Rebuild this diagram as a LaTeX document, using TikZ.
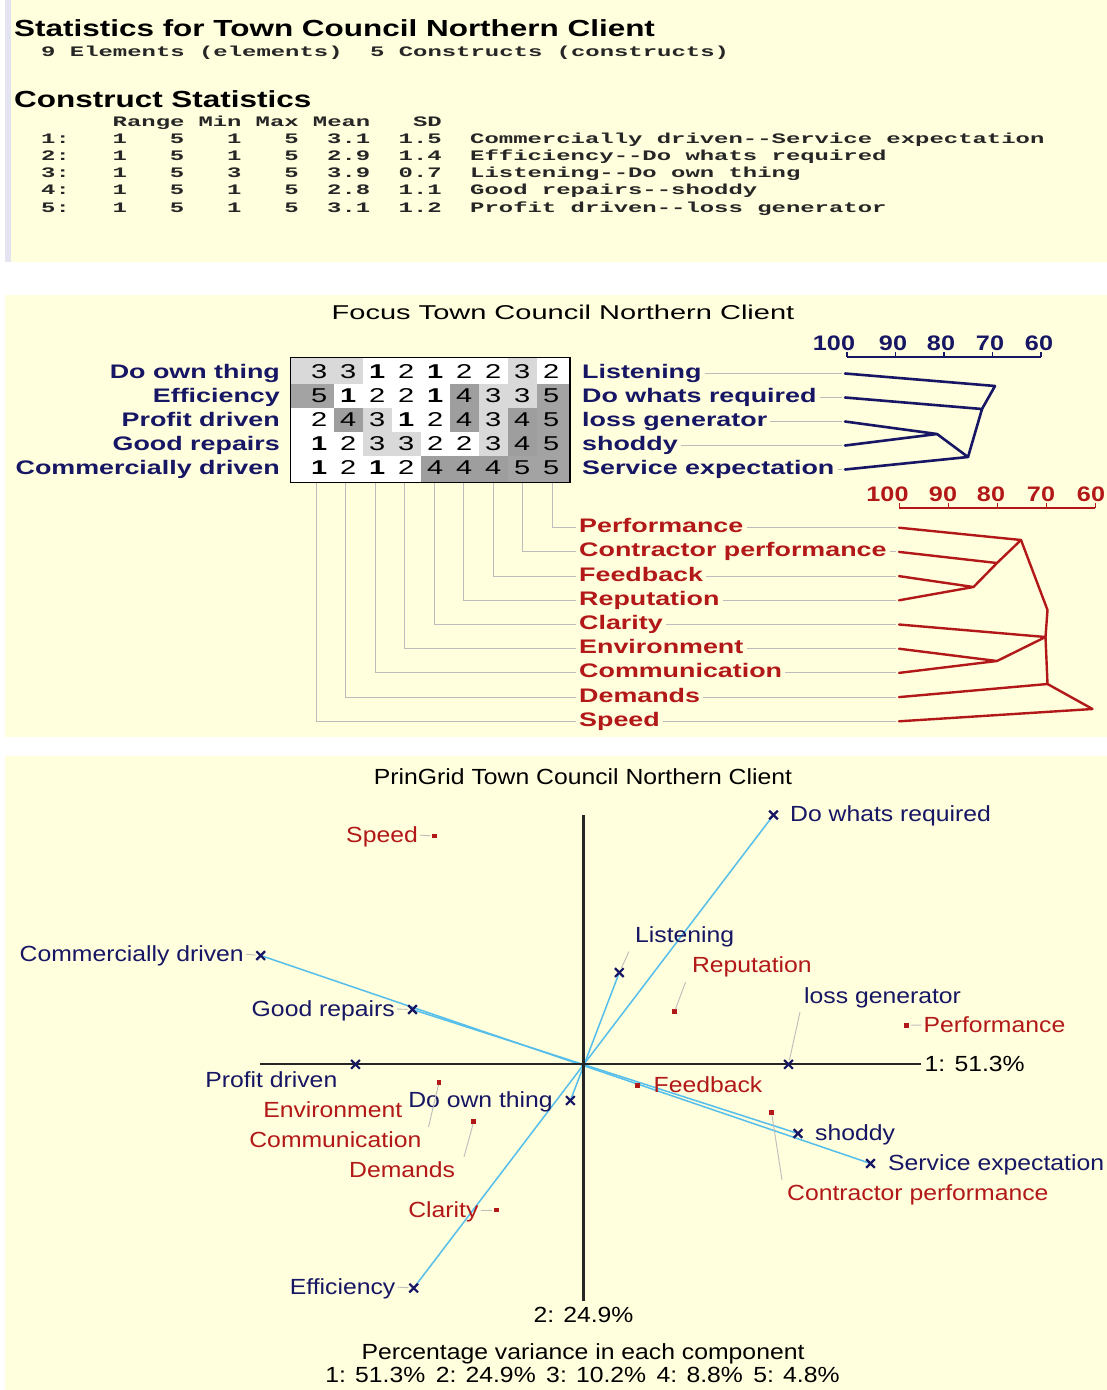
\documentclass[tikz,border=0pt]{standalone}
\usepackage{fontspec}
\usetikzlibrary{calc,shapes.misc}

% stretched faces of the report fonts
\newfontfamily\fHead[FakeStretch=1.35]{Liberation Sans}
\newfontfamily\fMono[FakeStretch=1.65]{Liberation Mono}
\newfontfamily\fMid[FakeStretch=1.45]{Liberation Sans}
\newfontfamily\fLab[FakeStretch=1.37]{Liberation Sans}
\newfontfamily\fScale[FakeStretch=1.2]{Liberation Sans}
\newfontfamily\fBot[FakeStretch=1.13]{Liberation Sans}

\definecolor{panel}{RGB}{255,254,221}
\definecolor{strip}{RGB}{228,228,240}
\definecolor{navy}{RGB}{22,22,100}
\definecolor{dred}{RGB}{178,24,24}
\definecolor{sky}{RGB}{85,190,235}
\definecolor{leadgray}{RGB}{188,188,188}
\colorlet{sh3}{black!15}
\colorlet{sh4}{black!38}
\colorlet{sh5}{black!36}

\pgfdeclarelayer{bg}
\pgfdeclarelayer{wires}
\pgfsetlayers{bg,wires,main}

% shade one cell of the focused grid: colour, column, row
\newcommand\shadecell[3]{%
  \pgfmathsetmacro\xl{#2==1 ? 290.5 : 334+29*(#2-2)}%
  \pgfmathsetmacro\xr{#2==9 ? 569.5 : 334+29*(#2-1)}%
  \pgfmathsetmacro\yt{#3==1 ? 357.5 : 359.5+24*(#3-1)}%
  \pgfmathsetmacro\yb{#3==5 ? 482.5 : 383.5+24*(#3-1)}%
  \fill[#1] (\xl,\yt) rectangle (\xr,\yb);}

\begin{document}
\begin{tikzpicture}[x=1pt,y=-1pt,
  hd/.style={font=\fHead\bfseries\fontsize{23.3}{28}\selectfont, text=black, inner sep=0pt, text height=16.5pt, text depth=0pt, anchor=west},
  mono/.style={font=\fMono\bfseries\fontsize{14.5}{17}\selectfont, text=black!85, inner sep=0pt, text height=9.5pt, text depth=0pt, anchor=west},
  midtxt/.style={font=\fMid\fontsize{20}{24}\selectfont, inner sep=0pt, text height=14pt, text depth=0pt},
  labtxt/.style={font=\fLab\bfseries\fontsize{19.6}{24}\selectfont, inner sep=0pt, text height=14pt, text depth=0pt},
  conlab/.style={labtxt, text=navy},
  elelab/.style={labtxt, text=dred},
  digit/.style={font=\fMid\fontsize{20}{22}\selectfont, inner sep=0pt, text height=14pt, text depth=0pt, text=black},
  scl/.style={font=\fScale\bfseries\fontsize{21}{24}\selectfont, inner sep=0pt, text height=14.5pt, text depth=0pt},
  bot/.style={font=\fBot\fontsize{21.9}{26}\selectfont, inner sep=0pt, text height=15pt, text depth=0pt},
  bcon/.style={bot, text=navy},
  bele/.style={bot, text=dred},
  lead/.style={draw=leadgray, line width=0.9pt},
  ndend/.style={draw=navy, line width=2.6pt, line cap=round, line join=round},
  rdend/.style={draw=dred, line width=2.4pt, line cap=round, line join=round},
  cmark/.style={cross out, draw=navy, line width=2.2pt, minimum size=6.5pt, inner sep=0pt},
  emark/.style={rectangle, fill=dred, minimum size=4.5pt, inner sep=0pt},
  vec/.style={draw=sky, line width=1.5pt},
  axisline/.style={draw=black!85, line width=2.2pt},
]
\useasboundingbox (0,0) rectangle (1107,1390);

% ---------- panels ----------
\begin{pgfonlayer}{bg}
  \fill[white] (0,0) rectangle (1107,1390);
  \fill[panel] (5,0) rectangle (1107,262);
  \fill[strip] (5,0) rectangle (11,262);
  \fill[panel] (5,295) rectangle (1107,737);
  \fill[panel] (5,756) rectangle (1107,1390);
\end{pgfonlayer}

% ---------- statistics ----------
\node[hd] (sTitle) at (14,28) {Statistics for Town Council Northern Client};
\node[mono] (sElem) at (41,51.5) {9 Elements (elements)};
\node[mono] (sCons) at ({41+14.3*23},51.5) {5 Constructs (constructs)};
\node[hd] (sHead) at (14,99) {Construct Statistics};
\foreach \t/\i in {Range/5,Min/11,Max/15,Mean/19,SD/26}
  {\node[mono] (h\t) at ({41+14.3*\i},122) {\t};}
\foreach \vr/\va/\vb/\vc/\vd/\ve/\vf/\vtxt in {
  1/1/5/1/5/3.1/1.5/{Commercially driven-\kern0pt-Service expectation},
  2/1/5/1/5/2.9/1.4/{Efficiency-\kern0pt-Do whats required},
  3/1/5/3/5/3.9/0.7/{Listening-\kern0pt-Do own thing},
  4/1/5/1/5/2.8/1.1/{Good repairs-\kern0pt-shoddy},
  5/1/5/1/5/3.1/1.2/{Profit driven-\kern0pt-loss generator}} {
  \pgfmathsetmacro\yy{138.3+17.25*(\vr-1)}
  \node[mono] (rn\vr) at (41,\yy) {\vr:};
  \node[mono] (ra\vr) at (112.5,\yy) {\va};
  \node[mono] (rb\vr) at (169.7,\yy) {\vb};
  \node[mono] (rc\vr) at (226.9,\yy) {\vc};
  \node[mono] (rd\vr) at (284.1,\yy) {\vd};
  \node[mono] (re\vr) at (327,\yy) {\ve};
  \node[mono] (rf\vr) at (398.5,\yy) {\vf};
  \node[mono] (rt\vr) at (470,\yy) {\vtxt};
}

% ---------- focus grid ----------
\node[midtxt, text=black] (fTitle) at (563,312.5) {Focus Town Council Northern Client};

\foreach \lab [count=\gr] in {Do own thing, Efficiency, Profit driven, Good repairs, Commercially driven}
  {\node[conlab, anchor=east] (cl\gr) at (280,{371.5+24*(\gr-1)}) {\lab};}
\foreach \lab [count=\gr] in {Listening, Do whats required, loss generator, shoddy, Service expectation}
  {\node[conlab, anchor=west] (cr\gr) at (582,{371.5+24*(\gr-1)}) {\lab};}

\fill[white] (290.5,357.5) rectangle (570,482.5);
\foreach \gc/\gr in {1/1,2/1,8/1,7/2,8/2,3/3,7/3,3/4,4/4,7/4} {\shadecell{sh3}{\gc}{\gr}}
\foreach \gc/\gr in {6/2,2/3,6/3,8/3,8/4,5/5,6/5,7/5} {\shadecell{sh4}{\gc}{\gr}}
\foreach \gc/\gr in {1/2,9/2,9/3,9/4,8/5,9/5} {\shadecell{sh5}{\gc}{\gr}}

\foreach \row [count=\gr] in {{3,3,1,2,1,2,2,3,2},{5,1,2,2,1,4,3,3,5},{2,4,3,1,2,4,3,4,5},{1,2,3,3,2,2,3,4,5},{1,2,1,2,4,4,4,5,5}}
  {\foreach \v [count=\gc] in \row
    {\node[digit] (g\gr-\gc) at ({319.3+29*(\gc-1)},{371.5+24*(\gr-1)}) {\ifnum\v=1 \bfseries\fi\v};}}

\node[draw=black, line width=1.4pt, minimum width=279.5pt, minimum height=125pt, inner sep=0pt] (grid) at (430.25,420) {};

% construct leaders and tree
\foreach \gr in {1,...,5} {
  \coordinate (cf\gr) at (845,{373.5+24*(\gr-1)});
  \draw[lead] ($(cr\gr.east)+(3,2)$) -- ($(cf\gr)+(-3,0)$);
}
\coordinate (nB) at (937,434);
\coordinate (nC) at (968,457);
\coordinate (nD) at (982,409);
\coordinate (nE) at (995,386);
\draw[ndend] (cf3) -- (nB) -- (cf4);
\draw[ndend] (nB) -- (nC) -- (cf5);
\draw[ndend] (nC) -- (nD) -- (cf2);
\draw[ndend] (nD) -- (nE) -- (cf1);

\foreach \i/\x/\lx/\t in {0/847/834/100,1/895.5/893/90,2/944/941/80,3/992.5/990/70,4/1041/1039/60} {
  \coordinate (nt\i) at (\x,357);
  \draw[navy, line width=1.5pt] (nt\i) -- ++(0,-5.5);
  \node[scl, text=navy] (ns\i) at (\lx,343) {\t};
}
\draw[navy, line width=1.5pt] (nt0) -- (nt4);

% element leaders and tree
\foreach \lab [count=\k from 0] in {Performance, Contractor performance, Feedback, Reputation, Clarity, Environment, Communication, Demands, Speed} {
  \pgfmathsetmacro\yc{525.7+24.2*\k}
  \pgfmathsetmacro\xd{316+29.5*(8-\k)}
  \node[elelab, anchor=west] (el\k) at (579,\yc) {\lab};
  \coordinate (ed\k) at (\xd,{\yc+2});
  \coordinate (ef\k) at (899,{\yc+2});
  \draw[lead] (grid.south -| ed\k) |- ($(el\k.west)+(-3,2)$);
  \draw[lead] ($(el\k.east)+(3,2)$) -- ($(ef\k)+(-3,0)$);
}
\coordinate (rFR) at (973.5,587);
\coordinate (rCFR) at (997,563);
\coordinate (rP) at (1021,540);
\coordinate (rX1) at (1047.5,610);
\coordinate (rX2) at (1045.5,637);
\coordinate (rEC) at (997,661);
\coordinate (rX3) at (1047.5,684);
\coordinate (rRoot) at (1092.5,709);
\draw[rdend] (ef2) -- (rFR) -- (ef3);
\draw[rdend] (rFR) -- (rCFR) -- (ef1);
\draw[rdend] (rCFR) -- (rP) -- (ef0);
\draw[rdend] (rP) -- (rX1) -- (rX2) -- (rX3);
\draw[rdend] (ef4) -- (rX2);
\draw[rdend] (ef5) -- (rEC) -- (ef6);
\draw[rdend] (rEC) -- (rX2);
\draw[rdend] (ef7) -- (rX3) -- (rRoot) -- (ef8);

\foreach \i/\x/\lx/\t in {0/899.4/887.5/100,1/948.4/943/90,2/997.4/991/80,3/1046.4/1041/70,4/1095.3/1091/60} {
  \coordinate (rt\i) at (\x,508);
  \draw[dred, line width=1.5pt] (rt\i) -- ++(0,-5.5);
  \node[scl, text=dred] (rs\i) at (\lx,494) {\t};
}
\draw[dred, line width=1.5pt] (rt0) -- (rt4);

% ---------- principal components plot ----------
\node[bot, text=black] (pTitle) at (583,777) {PrinGrid Town Council Northern Client};

\coordinate (O) at (583.5,1064.3);
\coordinate (axL) at (260,1064.3);
\coordinate (axR) at (921,1064.3);
\coordinate (axT) at (583.5,815);
\coordinate (axB) at (583.5,1300.5);
\node[bot, text=black, anchor=west] (ax1) at (924.5,1064.3) {1: 51.3\%};
\node[bot, text=black] (ax2) at (583.5,1315) {2: 24.9\%};

% construct poles
\node[cmark] (mDW) at (773.5,815) {};
\node[cmark] (mLi) at (619.3,972.5) {};
\node[cmark] (mLG) at (788.5,1064.3) {};
\node[cmark] (mCD) at (260.7,955.5) {};
\node[cmark] (mGR) at (412.5,1009.5) {};
\node[cmark] (mPD) at (355.5,1064.3) {};
\node[cmark] (mDO) at (570.4,1100.5) {};
\node[cmark] (mEf) at (413.7,1288) {};
\node[cmark] (mSh) at (798,1133.5) {};
\node[cmark] (mSE) at (870.5,1163.5) {};

% elements
\node[emark] (mSp) at (434.6,836) {};
\node[emark] (mRe) at (674.5,1011.7) {};
\node[emark] (mPe) at (906.4,1025.3) {};
\node[emark] (mFe) at (637.5,1085.5) {};
\node[emark] (mEC) at (439,1082.5) {};
\node[emark] (mDe) at (473.7,1121.7) {};
\node[emark] (mCl) at (496.3,1210) {};
\node[emark] (mCP) at (771.6,1112.7) {};

\begin{pgfonlayer}{wires}
  \draw[vec] (mCD.center) -- (mSE.center);
  \draw[vec] (mGR.center) -- (mSh.center);
  \draw[vec] (mEf.center) -- (mDW.center);
  \draw[vec] (mLi.center) -- (mDO.center);
  \draw[vec] (mPD.center) -- (mLG.center);
  \draw[axisline] (axL) -- (axR);
  \draw[axisline] (axT) -- (axB);
\end{pgfonlayer}

% construct labels
\node[bcon, anchor=west] (lDW) at (790,813.5) {Do whats required};
\node[bcon, anchor=west] (lLi) at (635,935) {Listening};
\node[bcon, anchor=west] (lLG) at (804,996) {loss generator};
\node[bcon, anchor=east] (lCD) at (244,954) {Commercially driven};
\node[bcon, anchor=east] (lGR) at (395,1009) {Good repairs};
\node[bcon, anchor=east] (lPD) at (337.5,1080) {Profit driven};
\node[bcon, anchor=east] (lDO) at (553,1100) {Do own thing};
\node[bcon, anchor=east] (lEf) at (395.5,1287) {Efficiency};
\node[bcon, anchor=west] (lSh) at (815,1133) {shoddy};
\node[bcon, anchor=west] (lSE) at (888,1163) {Service expectation};

% element labels
\node[bele, anchor=east] (lSp) at (418,835) {Speed};
\node[bele, anchor=west] (lRe) at (691.8,965) {Reputation};
\node[bele, anchor=west] (lPe) at (923.4,1025) {Performance};
\node[bele, anchor=west] (lFe) at (653.5,1085) {Feedback};
\node[bele, anchor=east] (lEn) at (402.4,1110) {Environment};
\node[bele, anchor=east] (lCo) at (421.5,1140) {Communication};
\node[bele, anchor=east] (lDe) at (455.3,1170) {Demands};
\node[bele, anchor=east] (lCl) at (478.6,1210) {Clarity};
\node[bele, anchor=west] (lCP) at (787,1193) {Contractor performance};

% leaders from displaced labels
\coordinate (kLi) at (629,951.5);
\coordinate (kRe) at (685.6,982);
\coordinate (kLG) at (800,1012);
\coordinate (kCo) at (428.5,1127);
\coordinate (kDe) at (464,1157);
\coordinate (kCP) at (782,1180);
\draw[lead] (mLi) -- (kLi);
\draw[lead] (mRe) -- (kRe);
\draw[lead] (mLG) -- (kLG);
\draw[lead] (mEC) -- (kCo);
\draw[lead] (mDe) -- (kDe);
\draw[lead] (mCP) -- (kCP);
\draw[lead, shorten <=2pt, shorten >=4pt] (lSp.east) -- (mSp.center);
\draw[lead, shorten <=2pt, shorten >=4pt] (lCl.east) -- (mCl.center);
\draw[lead, shorten <=2pt, shorten >=5pt] (lEf.east) -- (mEf.center);
\draw[lead, shorten <=2pt, shorten >=5pt] (lCD.east) -- (mCD.center);
\draw[lead, shorten <=2pt, shorten >=5pt] (lGR.east) -- (mGR.center);
\draw[lead, shorten <=4pt, shorten >=2pt] (mPe.center) -- (lPe.west);

% variance summary
\node[bot, text=black] (pv) at (583,1351.5) {Percentage variance in each component};
\node[bot, text=black] (pc) at (582.5,1375) {1: 51.3\%\hspace{10.5pt}2: 24.9\%\hspace{10.5pt}3: 10.2\%\hspace{10.5pt}4: 8.8\%\hspace{10.5pt}5: 4.8\%};
\end{tikzpicture}
\end{document}
